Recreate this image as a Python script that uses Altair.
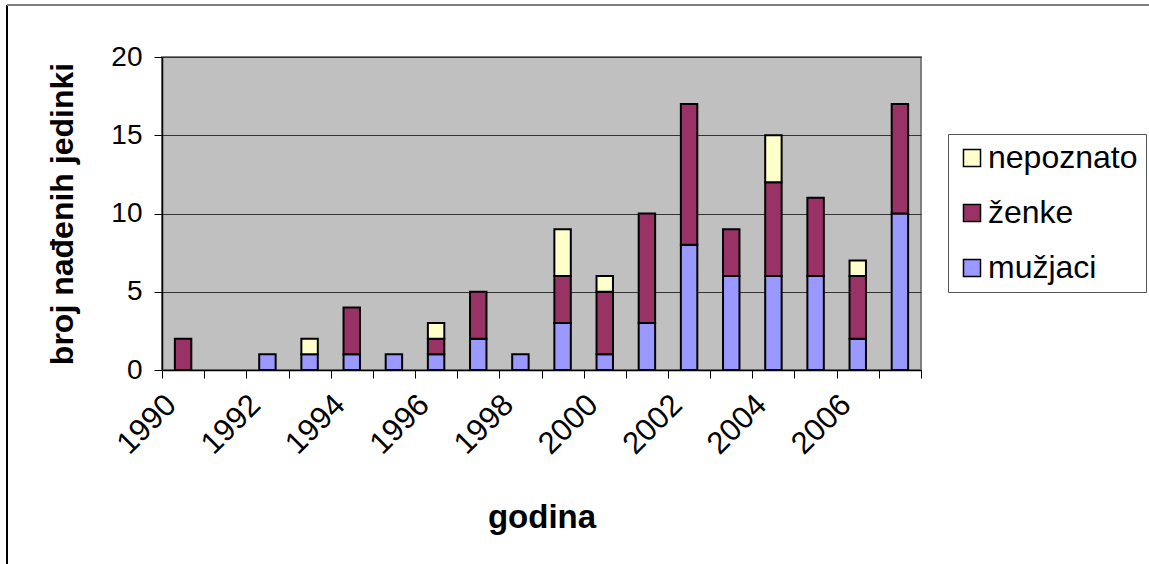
import altair as alt
import pandas as pd

# Found individuals per year, split by sex
years = [str(y) for y in range(1990, 2008)]
muzjaci = [0, 0, 1, 1, 1, 1, 1, 2, 1, 3, 1, 3, 8, 6, 6, 6, 2, 10]
zenke = [2, 0, 0, 0, 3, 0, 1, 3, 0, 3, 4, 7, 9, 3, 6, 5, 4, 7]
nepoznato = [0, 0, 0, 1, 0, 0, 1, 0, 0, 3, 1, 0, 0, 0, 3, 0, 1, 0]

groups = ["mužjaci", "ženke", "nepoznato"]
legend_order = ["nepoznato", "ženke", "mužjaci"]
colors = ["#FFFFCC", "#993366", "#9999FF"]
y_ticks = [0, 5, 10, 15, 20]

rows = []
for i, yr in enumerate(years):
    for rank, (name, vals) in enumerate(zip(groups, [muzjaci, zenke, nepoznato])):
        if vals[i] > 0:
            rows.append({"godina": yr, "spol": name, "broj": vals[i], "red": rank})
df = pd.DataFrame(rows)

FONT = "Liberation Sans"

bars = alt.Chart(df).mark_bar(
    stroke="black", strokeWidth=2, width=alt.RelativeBandSize(0.39)
).encode(
    x=alt.X(
        "godina:O",
        sort=years,
        scale=alt.Scale(domain=years, paddingInner=0, paddingOuter=0),
        axis=alt.Axis(
            title="godina",
            titleFont=FONT,
            titleFontSize=33,
            titleFontWeight="bold",
            titleColor="black",
            titlePadding=42,
            labelFont=FONT,
            labelFontSize=31,
            labelColor="black",
            labelAngle=315,
            labelAlign="right",
            labelBaseline="middle",
            labelPadding=22,
            labelOffset=-12,
            labelExpr="toNumber(datum.value) % 2 == 0 ? datum.label : ''",
            tickBand="extent",
            tickSize=8,
            tickColor="black",
            domainColor="black",
            domainWidth=1.5,
            grid=False,
        ),
    ),
    y=alt.Y(
        "broj:Q",
        stack="zero",
        scale=alt.Scale(domain=[0, 20], nice=False),
        axis=alt.Axis(
            title="broj nađenih jedinki",
            titleFont=FONT,
            titleFontSize=32,
            titleFontWeight="bold",
            titleColor="black",
            titlePadding=31,
            values=y_ticks,
            labelFont=FONT,
            labelFontSize=28,
            labelColor="black",
            labelPadding=12,
            tickSize=8,
            tickColor="black",
            domainColor="black",
            domainWidth=1.5,
            grid=True,
            gridColor="#333333",
            gridWidth=1,
        ),
    ),
    color=alt.Color(
        "spol:N",
        scale=alt.Scale(domain=legend_order, range=colors),
        legend=alt.Legend(
            title=None,
            orient="none",
            legendX=786,
            legendY=77,
            symbolType="square",
            symbolSize=290,
            symbolStrokeColor="black",
            symbolStrokeWidth=1.5,
            symbolOpacity=1,
            labelFont=FONT,
            labelFontSize=32,
            labelColor="black",
            labelOffset=0,
            rowPadding=23,
            padding=8,
            strokeColor="#555555",
            fillColor="white",
        ),
    ),
    order=alt.Order("red:Q", sort="ascending"),
)

# Outer chart frame
frame_src = pd.DataFrame({"k": [0]})
frame_left = alt.Chart(frame_src).mark_rule(color="black", strokeWidth=2).encode(
    x=alt.value(-155), y=alt.value(-52), y2=alt.value(520)
)
frame_top = alt.Chart(frame_src).mark_rule(color="#808080", strokeWidth=2).encode(
    x=alt.value(-155), x2=alt.value(1000), y=alt.value(-52)
)

chart = alt.layer(bars, frame_left, frame_top).properties(
    width=759,
    height=313,
    padding={"left": 162, "top": 57, "right": 228, "bottom": 194},
    autosize=alt.AutoSizeParams(type="none"),
    background="white",
).configure_view(fill="#C0C0C0", stroke="#808080", strokeWidth=2)

chart.save("out.html", embed_options={"renderer": "svg", "actions": False})
